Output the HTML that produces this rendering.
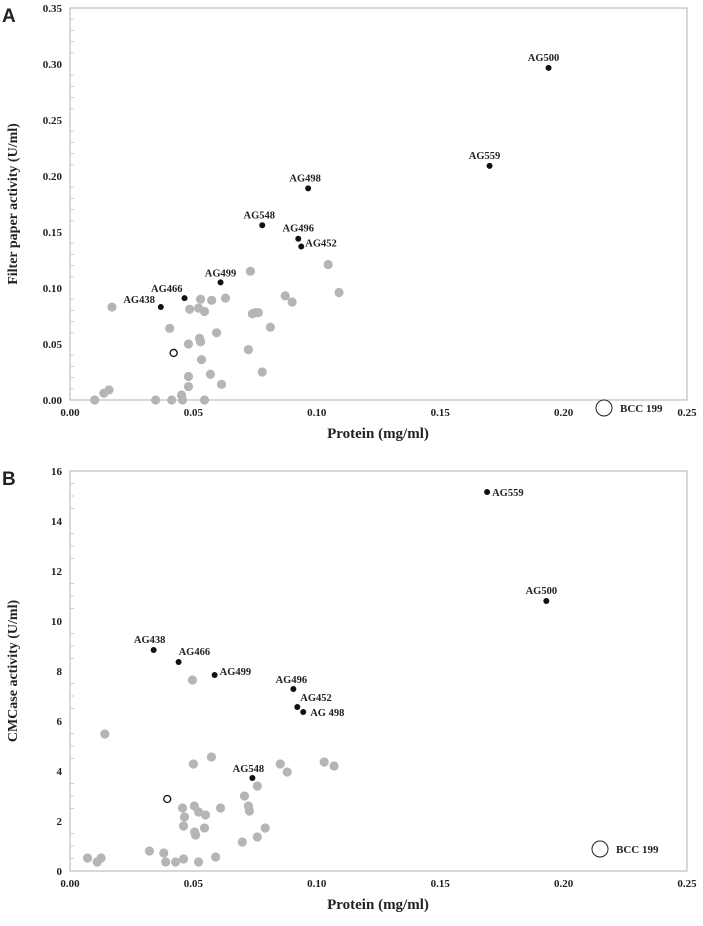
<!DOCTYPE html>
<html><head><meta charset="utf-8"><style>
body{margin:0;background:#fff;width:703px;height:921px;overflow:hidden}
svg text{font-family:"Liberation Serif",serif;font-weight:bold;fill:#222}
</style></head><body>
<svg id="c" width="703" height="921"></svg>
<script>
// Panel A data
const aGrayX=[0.010,0.0137,0.0158,0.017,0.0347,0.0404,0.0412,0.0452,0.0456,0.048,0.048,0.048,0.0485,0.0521,0.0525,0.0529,0.0529,0.0533,0.0545,0.0545,0.0569,0.0574,0.0594,0.0614,0.063,0.0723,0.0731,0.0739,0.0751,0.0763,0.0779,0.0812,0.0872,0.09,0.1046,0.109];
const aGrayY=[0,0.006,0.009,0.083,0,0.064,0,0.0045,0,0.050,0.021,0.012,0.081,0.082,0.055,0.052,0.090,0.036,0.079,0,0.023,0.089,0.060,0.014,0.091,0.045,0.115,0.077,0.078,0.078,0.025,0.065,0.093,0.0875,0.121,0.096];
const aNames=["AG438","AG466","AG499","AG548","AG498","AG496","AG452","AG559","AG500"];
const aX=[0.0368,0.0464,0.0610,0.0779,0.0965,0.0925,0.0937,0.170,0.1939];
const aY=[0.083,0.091,0.105,0.156,0.189,0.144,0.137,0.209,0.2965];
const aOpenX=[0.0420], aOpenY=[0.042];
const aYTicks=[0,0.05,0.10,0.15,0.20,0.25,0.30,0.35];
// Panel B data
const bGrayX=[0.0071,0.011,0.0126,0.0141,0.0322,0.038,0.0388,0.0428,0.046,0.0456,0.0464,0.046,0.0496,0.05,0.0504,0.0505,0.0509,0.0521,0.0521,0.0545,0.0549,0.0573,0.059,0.061,0.0698,0.0707,0.0723,0.0727,0.0759,0.0759,0.0791,0.0852,0.088,0.103,0.107];
const bGrayY=[0.52,0.36,0.52,5.48,0.8,0.72,0.36,0.36,0.48,2.52,2.16,1.8,7.64,4.28,2.6,1.56,1.44,2.36,0.36,1.72,2.24,4.56,0.56,2.52,1.16,3.0,2.6,2.4,3.4,1.36,1.72,4.28,3.96,4.36,4.2];
const bNames=["AG438","AG466","AG499","AG496","AG452","AG 498","AG548","AG559","AG500"];
const bX=[0.0339,0.0440,0.0586,0.0905,0.0921,0.0945,0.0739,0.169,0.193];
const bY=[8.84,8.36,7.84,7.28,6.56,6.36,3.72,15.16,10.8];
const bOpenX=[0.0394], bOpenY=[2.88];
const bYTicks=[0,2,4,6,8,10,12,14,16];
const xTicks=[0,0.05,0.10,0.15,0.20,0.25];

const NS="http://www.w3.org/2000/svg", svg=document.getElementById('c');
function mk(t,a,p){const e=document.createElementNS(NS,t);for(const k in a)e.setAttribute(k,a[k]);(p||svg).appendChild(e);return e;}

function panel(o){
  const g=mk('g',{});
  
  
  const L=70,R=687,T=o.top,B=o.bottom;
  const sx=v=>L+v/0.25*(R-L), sy=v=>B-v/o.ymax*(B-T);
  const fr=mk('rect',{x:L,y:T,width:R-L,height:B-T,fill:'none',stroke:'#c4c4c4','stroke-width':1.3},g);
  
  
  o.yt.forEach((v,i)=>{
    const t=mk('text',{x:L-8,y:sy(v)+4,'text-anchor':'end','font-size':11},g);
    t.textContent=o.ylab[i];
    
    
    if(i<o.yt.length-1){for(let k=1;k<o.minor;k++){const vv=v+(o.yt[1]-o.yt[0])*k/o.minor;mk('line',{x1:L,x2:L+4,y1:sy(vv),y2:sy(vv),stroke:'#ccc'},g);}}
  });
  xTicks.forEach(v=>{
    const t=mk('text',{x:sx(v),y:B+16,'text-anchor':'middle','font-size':11},g);
    t.textContent=v.toFixed(2);
    
    
  });
  const xt=mk('text',{x:378,y:B+38,'text-anchor':'middle','font-size':15},g);
  xt.textContent='Protein (mg/ml)';
  
  
  const yt=mk('text',{x:0,y:0,'text-anchor':'middle','font-size':14,transform:`translate(17,${(T+B)/2}) rotate(-90)`},g);
  yt.textContent=o.ytitle;
  
  
  const pl=mk('text',{x:2,y:T+14,'font-size':19,style:'font-family:"Liberation Sans",sans-serif'},g);
  pl.textContent=o.id==='a'?'A':'B';
  
  
  o.gx.forEach((v,i)=>{
    const c=mk('circle',{cx:sx(v),cy:sy(o.gy[i]),r:4.6,fill:'#b5b5b5'},g);
    
    
  });
  o.ox.forEach((v,i)=>{
    const c=mk('circle',{cx:sx(v),cy:sy(o.oy[i]),r:3.5,fill:'#fff',stroke:'#111','stroke-width':1.3},g);
    
    
  });
  o.nx.forEach((v,i)=>{
    const cx=sx(v),cy=sy(o.ny[i]);
    const c=mk('circle',{cx,cy,r:3,fill:'#111'},g);
    
    
    const off=o.off[i];
    const t=mk('text',{x:cx+off[0],y:cy+off[1],'text-anchor':off[2],'font-size':10.5},g);
    t.textContent=o.names[i];
    
    
  });
  const lc=mk('circle',{cx:o.leg[0],cy:o.leg[1],r:8,fill:'#fff',stroke:'#222','stroke-width':1},g);
  
  
  const lt=mk('text',{x:o.leg[0]+16,y:o.leg[1]+4,'font-size':11},g);
  lt.textContent='BCC 199';
  
  
}
panel({id:'a',top:8,bottom:400,ymax:0.35,yt:aYTicks,ylab:aYTicks.map(v=>v.toFixed(2)),minor:5,
  ytitle:'Filter paper activity  (U/ml)',gx:aGrayX,gy:aGrayY,ox:aOpenX,oy:aOpenY,nx:aX,ny:aY,names:aNames,
  off:[[-6,-4,'end'],[-2,-6,'end'],[0,-6,'middle'],[-3,-7,'middle'],[-3,-7,'middle'],[0,-7,'middle'],[4,0,'start'],[-5,-7,'middle'],[-5,-7,'middle']],
  leg:[604,408]});
panel({id:'b',top:471,bottom:871,ymax:16,yt:bYTicks,ylab:bYTicks.map(String),minor:4,
  ytitle:'CMCase activity  (U/ml)',gx:bGrayX,gy:bGrayY,ox:bOpenX,oy:bOpenY,nx:bX,ny:bY,names:bNames,
  off:[[-4,-7,'middle'],[0,-7,'start'],[5,0,'start'],[-2,-6,'middle'],[3,-6,'start'],[7,4,'start'],[-4,-6,'middle'],[5,4,'start'],[-5,-7,'middle']],
  leg:[600,849]});
</script>
</body></html>
